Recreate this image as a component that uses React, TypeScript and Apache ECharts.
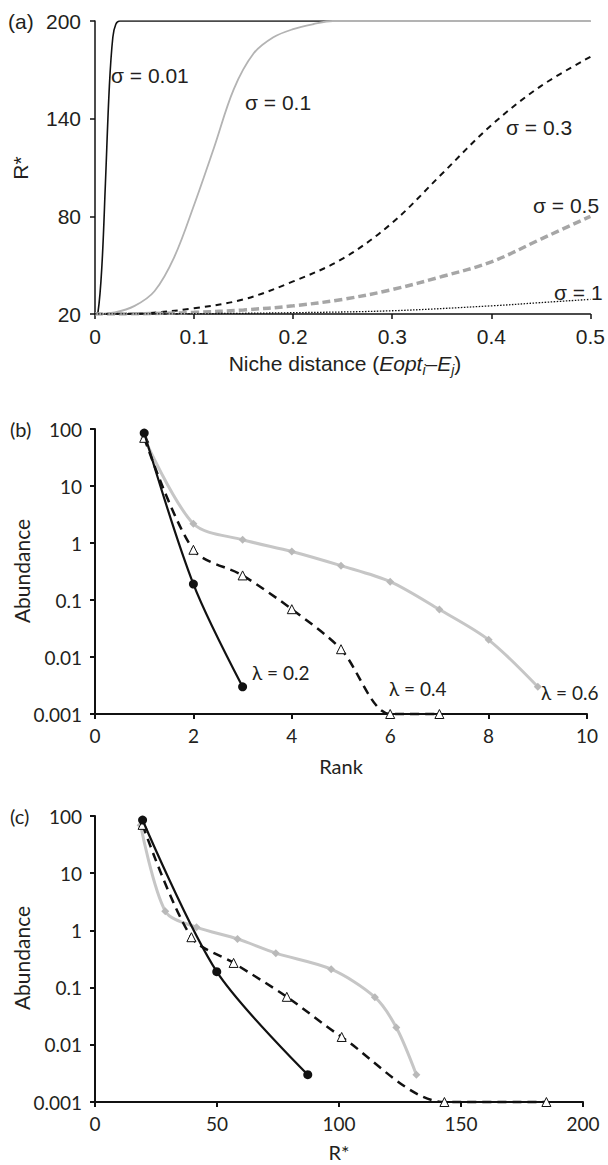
import React, { useEffect, useRef } from "react";
import * as echarts from "echarts";

// ---------- Panel (a): R* vs niche distance ----------
const sigma001X = [0, 0.003, 0.007, 0.0105, 0.0145, 0.018, 0.021, 0.025, 0.5];
const sigma001Y = [20, 21, 50, 100, 160, 190, 198, 200, 200];
const sigma01X = [0, 0.02, 0.04, 0.06, 0.08, 0.1, 0.12, 0.14, 0.16, 0.18, 0.2, 0.22, 0.24, 0.5];
const sigma01Y = [20, 21, 25, 34, 55, 87, 122, 158, 180, 190, 195, 198, 200, 200];
const sigma03X = [0, 0.05, 0.1, 0.15, 0.2, 0.25, 0.3, 0.35, 0.4, 0.45, 0.5];
const sigma03Y = [20, 20.5, 23.5, 29, 40, 54, 76, 106, 136, 160, 178];
const sigma05X = [0, 0.05, 0.1, 0.15, 0.2, 0.25, 0.3, 0.35, 0.4, 0.45, 0.5];
const sigma05Y = [20, 20.2, 21, 22.5, 25, 29, 35, 43, 52, 66, 80];
const sigma1X = [0, 0.1, 0.2, 0.3, 0.4, 0.45, 0.5];
const sigma1Y = [20, 20.2, 20.8, 22, 25, 27, 29];
const rTicks = [20, 80, 140, 200];

// ---------- Panels (b) and (c): abundances ----------
const rank02 = [1, 2, 3];
const rank04 = [1, 2, 3, 4, 5, 6, 7];
const rank06 = [1, 2, 3, 4, 5, 6, 7, 8, 9];
const abund02 = [85, 0.19, 0.003];
const abund04 = [70, 0.76, 0.27, 0.069, 0.0137, 0.001, 0.001];
const abund06 = [69, 2.17, 1.14, 0.71, 0.4, 0.21, 0.068, 0.02, 0.003];
const rstar02 = [19.5, 49.9, 87.2];
const rstar04 = [19.5, 39.5, 56.8, 78.6, 101.1, 143.2, 185];
const rstar06 = [18.7, 28.8, 41.6, 58.4, 74.1, 96.8, 114.7, 123.5, 131.7];

const FA = '"Liberation Sans", Arial, sans-serif';
const FB = 'Lato, "Noto Sans", sans-serif';
const TXT = "#231f20";
const SA = 21; // panel (a) font size
const SB = 19; // panels (b),(c) font size

const pairs = (xs: number[], ys: number[]) => xs.map((x, i) => [x, ys[i]]);

function curve(name: string, xs: number[], ys: number[], color: string, width: number, type: any) {
  return {
    name,
    type: "line",
    xAxisIndex: 0,
    yAxisIndex: 0,
    data: pairs(xs, ys),
    showSymbol: false,
    smooth: 0.35,
    lineStyle: { color, width, type },
    silent: true,
  };
}

function abundSeries(idx: number, xs: number[], ys: number[], kind: number) {
  const base: any = {
    type: "line",
    xAxisIndex: idx,
    yAxisIndex: idx,
    data: pairs(xs, ys),
    smooth: 0.3,
    clip: false,
    silent: true,
  };
  if (kind === 6) {
    return { ...base, name: "l06", symbol: "diamond", symbolSize: 8, z: 2,
      itemStyle: { color: "#b9b9b9" }, lineStyle: { color: "#c6c6c6", width: 3 } };
  }
  if (kind === 4) {
    return { ...base, name: "l04", symbol: "triangle", symbolSize: 9, z: 3,
      itemStyle: { color: "#ffffff", borderColor: "#111", borderWidth: 1 },
      lineStyle: { color: "#111", width: 2.5, type: [9, 6] } };
  }
  return { ...base, name: "l02", symbol: "circle", symbolSize: 9, z: 4,
    itemStyle: { color: "#111" }, lineStyle: { color: "#111", width: 2.2 } };
}

const axisLineA = { show: true, lineStyle: { color: "#111", width: 1.5 } };
const axisLineB = { show: true, lineStyle: { color: "#111", width: 2 } };

function text(x: number, y: number, t: string, font: string, size: number, align = "left", rotation = 0) {
  return {
    type: "text",
    x,
    y,
    rotation,
    silent: true,
    style: { text: t, fill: TXT, font: `${size}px ${font}`, align, verticalAlign: "middle" },
  };
}

export default function App() {
  const ref = useRef<HTMLDivElement>(null);
  useEffect(() => {
    const chart = echarts.init(ref.current!, null, { renderer: "svg" });
    const logAxis = (gi: number) => ({
      type: "log",
      gridIndex: gi,
      logBase: 10,
      min: 0.001,
      max: 100,
      axisLine: axisLineB,
      axisTick: { show: true, length: 5, lineStyle: { color: "#111", width: 2 } },
      axisLabel: { fontFamily: FB, fontSize: SB, color: TXT, margin: 13 },
      splitLine: { show: false },
      minorTick: { show: false },
    });
    const option: any = {
      animation: false,
      backgroundColor: "#fff",
      grid: [
        { left: 95, top: 21, width: 500, height: 293 },
        { left: 95, top: 429, width: 492, height: 285 },
        { left: 95, top: 816, width: 488, height: 286 },
      ],
      xAxis: [
        {
          type: "value", gridIndex: 0, min: 0, max: 0.5, interval: 0.1,
          axisLine: axisLineA,
          axisTick: { show: true, length: 5, lineStyle: { color: "#111", width: 1.5 } },
          axisLabel: { fontFamily: FA, fontSize: SA, color: TXT, margin: 12 },
          splitLine: { show: false },
        },
        {
          type: "value", gridIndex: 1, min: 0, max: 10, interval: 2,
          axisLine: axisLineB,
          axisTick: { show: true, length: 5, lineStyle: { color: "#111", width: 2 } },
          axisLabel: { fontFamily: FB, fontSize: SB, color: TXT, margin: 12 },
          splitLine: { show: false },
        },
        {
          type: "value", gridIndex: 2, min: 0, max: 200, interval: 50,
          axisLine: axisLineB,
          axisTick: { show: true, length: 5, lineStyle: { color: "#111", width: 2 } },
          axisLabel: { fontFamily: FB, fontSize: SB, color: TXT, margin: 12 },
          splitLine: { show: false },
        },
      ],
      yAxis: [
        {
          type: "value", gridIndex: 0, min: 20, max: 200,
          axisLine: axisLineA,
          axisTick: { show: true, length: 5, customValues: rTicks, lineStyle: { color: "#111", width: 1.5 } },
          axisLabel: { fontFamily: FA, fontSize: SA, color: TXT, margin: 14, customValues: rTicks },
          splitLine: { show: false },
        },
        logAxis(1),
        logAxis(2),
      ],
      series: [
        curve("s001", sigma001X, sigma001Y, "#111", 1.6, "solid"),
        curve("s01", sigma01X, sigma01Y, "#b3b3b3", 1.8, "solid"),
        curve("s03", sigma03X, sigma03Y, "#111", 2, [6, 5]),
        curve("s05", sigma05X, sigma05Y, "#a6a6a6", 3.5, [8, 4]),
        curve("s1", sigma1X, sigma1Y, "#111", 1.3, [1.5, 1.5]),
        abundSeries(1, rank06, abund06, 6),
        abundSeries(1, rank04, abund04, 4),
        abundSeries(1, rank02, abund02, 2),
        abundSeries(2, rstar06, abund06, 6),
        abundSeries(2, rstar04, abund04, 4),
        abundSeries(2, rstar02, abund02, 2),
      ],
      graphic: [
        text(8, 21, "(a)", FA, SA),
        text(20, 168, "R*", FA, SA, "center", Math.PI / 2),
        {
          type: "text", x: 345, y: 363, silent: true,
          style: {
            text: "{n|Niche distance (}{i|Eopt}{s|i}{n|–}{i|E}{s|j}{n|)}",
            align: "center", verticalAlign: "middle", fill: TXT,
            rich: {
              n: { fontFamily: FA, fontSize: SA, fill: TXT },
              i: { fontFamily: FA, fontSize: SA, fontStyle: "italic", fill: TXT },
              s: { fontFamily: FA, fontSize: 14, fontStyle: "italic", fill: TXT, verticalAlign: "bottom", padding: [13, 0, 0, 0] },
            },
          },
        },
        text(111, 75, "σ = 0.01", FA, SA),
        text(245, 102, "σ = 0.1", FA, SA),
        text(506, 127, "σ = 0.3", FA, SA),
        text(533, 205, "σ = 0.5", FA, SA),
        text(554, 292, "σ = 1", FA, SA),

        text(10, 429, "(b)", FB, SB + 1),
        text(21, 571, "Abundance", FB, 21, "center", Math.PI / 2),
        text(341, 766, "Rank", FB, 20, "center"),
        text(252, 672, "λ = 0.2", FB, SB),
        text(389, 688, "λ = 0.4", FB, SB),
        text(541, 692, "λ = 0.6", FB, SB),

        text(10, 816, "(c)", FB, SB + 1),
        text(21, 958, "Abundance", FB, 21, "center", Math.PI / 2),
        text(339, 1152, "R*", FB, 20, "center"),
      ],
    };
    chart.setOption(option);
    return () => chart.dispose();
  }, []);
  return (
    <div
      ref={ref}
      style={{ position: "absolute", left: 0, top: 0, width: 608, height: 1165, background: "#fff" }}
    />
  );
}
